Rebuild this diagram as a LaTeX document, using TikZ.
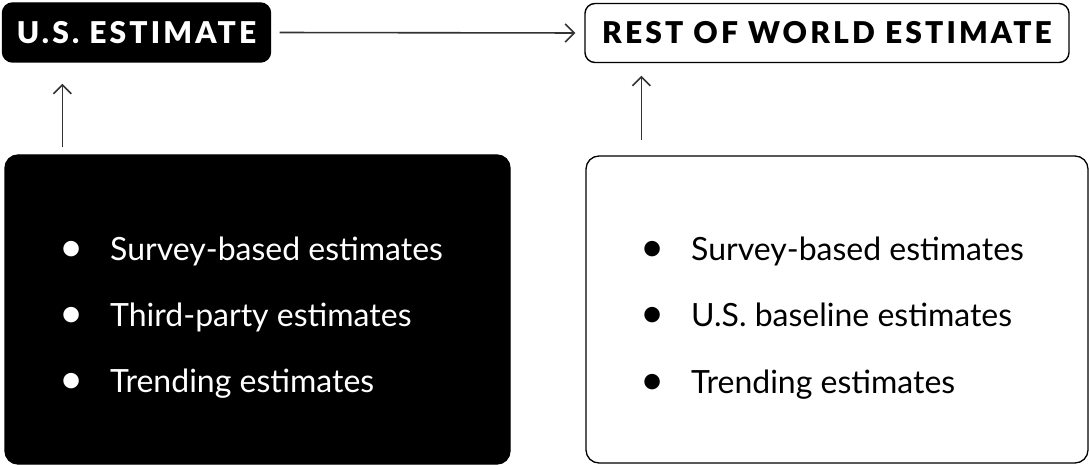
\documentclass[tikz,border=0pt]{standalone}
\usepackage{fontspec}
\setmainfont{Lato}
\newfontfamily\headfont[LetterSpace=10.5]{Lato Black}
\usetikzlibrary{arrows.meta,calc}
\definecolor{linegray}{HTML}{333333}
\tikzset{
  headbox/.style={rectangle, rounded corners=10pt, line width=1.4pt, inner sep=0pt},
  listbox/.style={rectangle, rounded corners=13pt, line width=1.3pt, inner sep=0pt},
  arr/.style={draw=linegray, line width=1.6pt, -{Straight Barb[length=9pt,width=18pt,line width=1.6pt]}},
  item/.style={anchor=base west, inner sep=0pt, font=\fontsize{32}{36}\selectfont},
}
\newcommand{\bul}{\makebox[51pt][l]{\raisebox{-1.2pt}{\scalebox{1.3}{\textbullet}}}}
\begin{document}
\begin{tikzpicture}[x=1pt,y=-1pt]
\useasboundingbox (0,0) rectangle (1089,465);
% header boxes
\node[headbox, fill=black, draw=black, minimum width=268pt, minimum height=59pt,
      text=white, font=\headfont\fontsize{30}{32}\selectfont] (us) at (136.5,32.5) {U.S. ESTIMATE};
\node[headbox, fill=white, draw=black, minimum width=484pt, minimum height=59pt,
      text=black, font=\headfont\fontsize{30}{32}\selectfont] (row) at (827,33) {REST OF WORLD ESTIMATE};
% list boxes
\node[listbox, fill=black, draw=black, minimum width=505pt, minimum height=309pt] (bl) at (257.5,309.5) {};
\node[listbox, fill=white, draw=black, minimum width=502pt, minimum height=307pt] (br) at (837,309.5) {};
% left list
\node[item, text=white] (l1) at (59,260) {\bul Survey-based estimates};
\node[item, text=white] (l2) at (59,326) {\bul Third-party estimates};
\node[item, text=white] (l3) at (59,392) {\bul Trending estimates};
% right list
\node[item, text=black] (r1) at (640,260) {\bul Survey-based estimates};
\node[item, text=black] (r2) at (640,326) {\bul U.S. baseline estimates};
\node[item, text=black] (r3) at (640,393) {\bul Trending estimates};
% connectors
\draw[arr, shorten <=8.5pt, shorten >=9pt] (us.east) -- (row.west);
\coordinate (lfoot) at ([xshift=58pt]bl.north west);
\coordinate (rfoot) at ([xshift=56pt]br.north west);
\draw[arr, shorten <=7pt, shorten >=21pt] (lfoot) -- (lfoot |- us.south);
\draw[arr, shorten <=15pt, shorten >=12.5pt] (rfoot) -- (rfoot |- row.south);
\end{tikzpicture}
\end{document}
